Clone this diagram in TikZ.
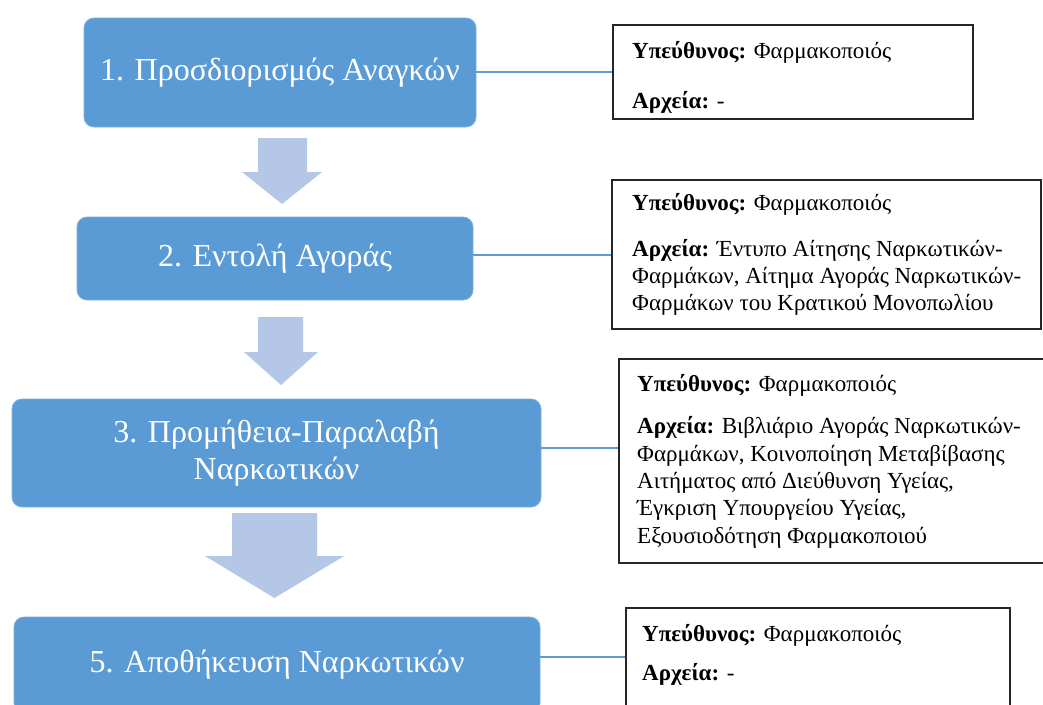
\documentclass[tikz,border=0pt]{standalone}
\usepackage{fontspec}
\setmainfont{Liberation Serif}
\definecolor{stepblue}{HTML}{5B9BD5}
\definecolor{flowblue}{HTML}{B4C7E7}

\begin{document}
\begin{tikzpicture}[x=1pt,y=-1pt,
  stepbox/.style={fill=stepblue, draw=stepblue!80!white, line width=0.8pt,
    rounded corners=10pt, text=white, font=\fontsize{32}{37}\selectfont,
    align=center, inner sep=0pt},
  infobox/.style={draw=black!85, line width=1.6pt, fill=white, inner sep=0pt},
  infotext/.style={anchor=base west, font=\fontsize{23}{27.5}\selectfont, inner sep=0pt},
  link/.style={draw=stepblue, line width=1.5pt},
  flowarrow/.style={fill=flowblue},
]
\useasboundingbox (0,0) rectangle (1043,704);
\clip (0,0) rectangle (1043,704);

% process steps
\node[stepbox, minimum width=392pt, minimum height=109pt] (b1) at (280,72.5) {1. Προσδιορισμός Αναγκών};
\node[stepbox, minimum width=396pt, minimum height=83pt] (b2) at (275,258.5) {2. Εντολή Αγοράς};
\node[stepbox, minimum width=529pt, minimum height=108pt] (b3) at (276.5,453) {3. Προμήθεια-Παραλαβή\\Ναρκωτικών};
\node[stepbox, minimum width=526pt, minimum height=96pt] (b5) at (277,665) {5. Αποθήκευση Ναρκωτικών};

% block arrows between the steps
\fill[flowarrow] (258,138) -- (307,138) -- (307,172) -- (322,172) -- (282,204) -- (242,172) -- (258,172) -- cycle;
\fill[flowarrow] (258,317) -- (303,317) -- (303,352) -- (318,352) -- (281,385) -- (244,352) -- (258,352) -- cycle;
\fill[flowarrow] (232,513) -- (317,513) -- (317,556) -- (344,556) -- (274.5,598) -- (205,556) -- (232,556) -- cycle;

% responsibility / record boxes
\node[infobox, minimum width=360pt, minimum height=94pt] (s1) at (793,72) {};
\node[infobox, minimum width=429pt, minimum height=149pt] (s2) at (826.5,254.5) {};
\node[infobox, minimum width=429pt, minimum height=204pt] (s3) at (833.5,461) {};
\node[infobox, minimum width=384pt, minimum height=112pt] (s4) at (818,664) {};

% links from steps to their boxes
\draw[link] (b1.east |- 0,72) -- (s1.west |- 0,72);
\draw[link] (b2.east |- 0,255) -- (s2.west |- 0,255);
\draw[link] (b3.east |- 0,448) -- (s3.west |- 0,448);
\draw[link] (b5.east |- 0,657) -- (s4.west |- 0,657);

% box texts
\node[infotext] (r1) at (632,58) {\textbf{Υπεύθυνος:} Φαρμακοποιός};
\node[infotext] (d1) at (632,108) {\textbf{Αρχεία:} -};

\node[infotext] (r2) at (632,210) {\textbf{Υπεύθυνος:} Φαρμακοποιός};
\node[infotext] (d2a) at (632,256) {\textbf{Αρχεία:} Έντυπο Αίτησης Ναρκωτικών-};
\node[infotext] (d2b) at (632,283) {Φαρμάκων, Αίτημα Αγοράς Ναρκωτικών-};
\node[infotext] (d2c) at (632,310) {Φαρμάκων του Κρατικού Μονοπωλίου};

\node[infotext] (r3) at (637,391) {\textbf{Υπεύθυνος:} Φαρμακοποιός};
\node[infotext] (d3a) at (637,433) {\textbf{Αρχεία:} Βιβλιάριο Αγοράς Ναρκωτικών-};
\node[infotext] (d3b) at (637,461) {Φαρμάκων, Κοινοποίηση Μεταβίβασης};
\node[infotext] (d3c) at (637,488) {Αιτήματος από Διεύθυνση Υγείας,};
\node[infotext] (d3d) at (637,515) {Έγκριση Υπουργείου Υγείας,};
\node[infotext] (d3e) at (637,543) {Εξουσιοδότηση Φαρμακοποιού};

\node[infotext] (r4) at (642,641) {\textbf{Υπεύθυνος:} Φαρμακοποιός};
\node[infotext] (d4) at (642,680) {\textbf{Αρχεία:} -};
\end{tikzpicture}
\end{document}
